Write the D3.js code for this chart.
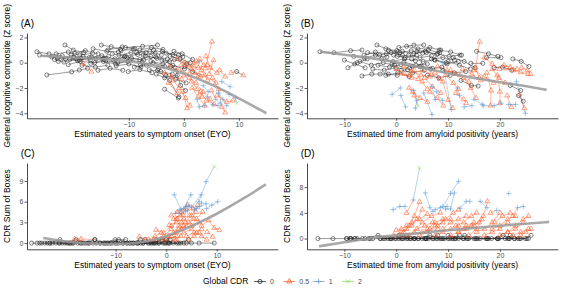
<!DOCTYPE html>
<html>
<head>
<meta charset="utf-8">
<script src="https://cdn.jsdelivr.net/npm/d3@7"></script>
<style>
body { margin: 0; background: #fff; }
text { font-family: "Liberation Sans", Arial, sans-serif; }
</style>
</head>
<body>
<svg id="chart" width="561" height="288"></svg>
<script>
// Global CDR levels and labels
var cdrLevels = [0, 0.5, 1, 2];
var cdrLabels = ["0", "0.5", "1", "2"];

// tick labels
var xTicksEYO = [-10, 0, 10];
var xTicksAmy = [-10, 0, 10, 20];
var yTicksCog = [-4, -2, 0, 2];
var yTicksSobC = [0, 3, 6, 9];
var yTicksSobD = [0, 4, 8];

// each subject: [time, score, global CDR] per visit
var subjectsA = [
  [[-26.7,0.87,0],[-24.5,0.7,0],[-22.1,0.55,0]],
  [[-26.2,0.6,0],[-23.0,0.35,0],[-20.0,0.45,0]],
  [[-24.9,-0.97,0],[-20.4,-0.72,0],[-19.0,-0.58,0],[-17.5,-0.45,0]],
  [[-23.5,0.25,0],[-21.8,0.05,0],[-19.5,0.3,0],[-17.0,0.2,0]],
  [[-21.6,1.4,0],[-20.1,1.0,0],[-18.2,0.8,0]],
  [[-22.8,0.1,0],[-20.5,0.6,0],[-18.7,0.35,0]],
  [[-21.0,-0.15,0],[-18.8,0.1,0],[-16.2,0.0,0],[-14.5,0.25,0]],
  [[-19.8,0.75,0],[-17.9,0.95,0],[-15.6,0.7,0]],
  [[-18.5,-0.2,0],[-16.1,-0.35,0],[-13.8,-0.2,0]],
  [[-17.2,0.4,0],[-14.9,0.55,0],[-12.5,0.3,0],[-10.8,0.45,0]],
  [[-15.0,1.4,0],[-13.2,1.27,0],[-11.5,1.05,0]],
  [[-16.5,1.1,0],[-14.0,0.9,0],[-11.9,0.85,0]],
  [[-15.6,-0.6,0],[-13.4,-0.45,0],[-11.1,-0.6,0]],
  [[-14.2,0.15,0],[-12.0,0.0,0],[-9.8,0.2,0],[-7.6,0.05,0]],
  [[-13.0,0.7,0],[-10.7,0.5,0],[-8.4,0.65,0]],
  [[-12.3,-0.25,0],[-10.0,-0.1,0],[-7.8,-0.35,0]],
  [[-10.6,1.2,0],[-7.5,1.3,0],[-4.8,1.4,0]],
  [[-11.4,0.95,0],[-9.2,1.1,0],[-6.9,0.8,0]],
  [[-10.1,-0.7,0],[-8.0,-0.55,0],[-5.8,-0.8,0]],
  [[-9.5,0.35,0],[-7.3,0.2,0],[-5.1,0.45,0],[-3.0,0.3,0]],
  [[-8.6,0.8,0],[-6.2,0.9,0],[-4.1,0.6,0]],
  [[-7.9,-0.2,0],[-5.6,0.0,0],[-3.5,-0.3,0]],
  [[-7.0,0.55,0],[-4.9,0.35,0],[-2.6,0.1,0]],
  [[-6.3,-0.55,0],[-4.2,-0.7,0],[-2.1,-0.9,0]],
  [[-5.5,1.0,0],[-3.2,0.75,0],[-1.0,0.6,0]],
  [[-4.8,-0.6,0],[-2.6,-1.4,0],[-0.9,-2.7,0]],
  [[-4.0,0.2,0],[-2.0,-0.2,0],[0.1,-0.5,0]],
  [[-3.3,-1.0,0],[-1.5,-1.3,0],[0.4,-1.6,0]],
  [[-2.5,0.5,0],[-0.7,0.3,0],[1.2,0.0,0]],
  [[-1.6,-0.4,0],[-0.6,-1.8,0],[0.3,-2.2,0]],
  [[-24.0,0.45,0],[-21.5,0.3,0],[-19.3,0.15,0]],
  [[-3.5,-2.1,0],[-1.0,-2.8,0]],
  [[-12.8,0.2,0],[-10.4,0.45,0],[-8.0,0.25,0],[-6.0,0.5,0]],
  [[-19.0,0.2,0],[-16.8,0.45,0],[-14.6,0.35,0]],
  [[8.6,-0.8,0.5],[9.6,-0.7,0],[10.8,-1.0,0.5]],
  [[-6.0,0.1,0],[-3.8,-0.1,0],[-1.7,0.25,0],[0.5,-0.1,0]],
  [[-5.0,-0.9,0],[-3.5,-1.2,0],[-1.2,-1.0,0]],
  [[0.2,-0.3,0],[1.6,-0.7,0],[3.0,-1.1,0.5]],
  [[-13.8,1.0,0],[-11.2,1.25,0],[-8.9,1.1,0]],
  [[-1.8,0.9,0],[-0.3,0.7,0],[1.6,0.25,0]],
  [[-23.2,0.7,0],[-21.0,0.85,0],[-18.9,0.6,0],[-16.6,0.75,0]],
  [[-20.7,0.25,0],[-18.3,0.5,0],[-16.0,0.3,0],[-13.7,0.5,0]],
  [[-16.9,-0.05,0],[-14.6,0.1,0],[-12.4,-0.1,0],[-10.2,0.1,0]],
  [[-11.8,0.6,0],[-9.6,0.8,0],[-7.4,0.6,0],[-5.2,0.75,0]],
  [[-9.0,-0.35,0],[-6.8,-0.2,0],[-4.6,-0.45,0],[-2.4,-0.3,0]],
  [[-8.0,1.0,0],[-5.9,1.2,0],[-3.8,1.05,0]],
  [[-3.9,0.9,0],[-2.0,0.65,0],[-0.2,0.45,0]],
  [[-18.3,-0.05,0.5],[-16.8,-0.71,0.5]],
  [[-2.6,-0.3,0.5],[-0.8,-0.6,0.5],[1.0,-0.9,0.5]],
  [[-1.9,-1.4,0.5],[-0.9,-2.0,0.5],[0.3,-2.8,0.5],[1.1,-3.4,0.5]],
  [[-0.5,-0.2,0.5],[1.3,-0.5,0.5],[2.7,-1.0,0.5]],
  [[-0.2,-2.3,0.5],[0.6,-3.6,0.5]],
  [[3.9,-0.45,0.5],[5.1,1.66,0.5]],
  [[4.6,-0.9,0.5],[5.4,0.2,0.5]],
  [[2.3,0.1,0.5],[3.2,-0.6,0.5],[4.3,-1.4,0.5]],
  [[1.0,-1.2,0.5],[2.2,-1.6,0.5],[3.5,-2.3,0.5],[4.8,-2.9,0.5]],
  [[2.0,-0.8,0.5],[3.8,-1.0,0.5],[5.8,-1.6,0.5]],
  [[0.8,-0.2,0.5],[2.6,-0.4,0.5],[4.2,-0.2,0.5]],
  [[5.2,-1.2,0.5],[6.3,-2.1,0.5],[6.9,-3.5,0.5],[7.5,-3.95,0.5]],
  [[3.0,-2.3,0.5],[4.1,-3.0,0.5],[5.5,-3.3,0.5]],
  [[6.5,-0.6,0.5],[7.5,-1.1,0.5]],
  [[-1.2,0.3,0.5],[0.2,0.0,0.5],[1.8,-0.3,0.5]],
  [[6.0,-2.6,0.5],[7.8,-3.1,0.5],[8.9,-3.0,0.5]],
  [[1.5,-2.0,0.5],[2.6,-2.7,0.5],[3.8,-3.4,0.5]],
  [[4.0,0.5,0.5],[4.8,-0.4,0.5],[6.0,-0.8,0.5]],
  [[-3.5,-0.8,0.5],[-2.2,-1.1,0.5],[-0.4,-1.3,0.5]],
  [[0.0,-1.0,0.5],[1.4,-1.5,0.5],[2.4,-2.1,0.5],[3.3,-2.7,0.5]],
  [[2.9,0.3,0.5],[3.6,-0.2,0.5]],
  [[-2.8,-1.6,0.5],[-1.2,-2.4,0.5]],
  [[1.8,0.0,0.5],[2.8,0.1,1]],
  [[6.9,-1.5,1],[8.4,-1.9,1]],
  [[2.4,-2.9,1],[2.8,-3.5,1],[3.8,-3.4,1]],
  [[4.3,-2.7,1],[5.3,-3.3,1],[6.2,-3.4,1]],
  [[6.3,-2.4,1],[7.1,-2.9,1],[7.8,-3.4,1]],
  [[5.0,-2.2,0.5],[5.8,-2.9,1],[6.6,-3.2,1]],
  [[8.2,-2.5,1],[9.4,-2.8,1],[9.6,-3.2,2]],
  [[3.5,-1.8,1],[4.4,-2.3,1]]
];

var subjectsB = [
  [[-14.7,0.87,0],[-12.0,0.79,0],[-8.8,0.95,0],[-6.6,1.0,0]],
  [[-9.3,-0.4,0],[-7.5,0.0,0],[-5.6,0.3,0]],
  [[-6.6,-1.05,0],[-4.7,-0.9,0],[-3.1,-0.9,0],[-1.5,-0.9,0],[0.2,-1.0,0]],
  [[-8.2,0.5,0],[-6.1,0.35,0],[-4.0,0.6,0],[-1.8,0.45,0]],
  [[-3.7,1.4,0],[-2.0,1.1,0],[0.1,0.95,0]],
  [[0.5,1.2,0],[3.4,1.4,0],[5.3,1.4,0]],
  [[-7.0,0.1,0],[-4.8,-0.2,0],[-2.5,0.0,0],[-0.3,-0.2,0]],
  [[-5.5,0.8,0],[-3.2,0.6,0],[-1.0,0.8,0],[1.2,0.6,0]],
  [[-4.5,-0.5,0],[-2.3,-0.6,0],[0.0,-0.4,0],[2.2,-0.55,0]],
  [[-2.8,0.3,0],[-0.6,0.1,0],[1.6,0.3,0],[3.7,0.15,0]],
  [[-1.5,1.0,0],[0.7,0.8,0],[2.9,0.95,0],[5.1,0.75,0]],
  [[-0.8,-0.1,0],[1.5,0.05,0],[3.8,-0.2,0],[6.0,-0.1,0]],
  [[0.2,0.5,0],[2.4,0.6,0],[4.6,0.4,0],[6.8,0.55,0]],
  [[1.0,-0.6,0],[3.2,-0.8,0],[5.4,-0.6,0]],
  [[2.0,1.3,0],[4.2,1.1,0],[6.5,1.2,0],[8.6,1.0,0]],
  [[3.0,0.3,0],[5.2,0.1,0],[7.4,0.25,0],[9.6,0.0,0]],
  [[4.5,-0.3,0],[6.6,-0.5,0],[8.8,-0.35,0]],
  [[5.8,0.8,0],[8.0,0.7,0],[10.2,0.5,0],[12.3,0.6,0]],
  [[7.5,0.2,0],[9.8,-0.1,0],[12.0,0.1,0]],
  [[8.3,1.0,0],[10.5,0.85,0],[12.6,0.6,0]],
  [[9.0,-0.6,0],[11.2,-0.8,0],[13.4,-0.7,0]],
  [[11.0,0.4,0],[13.1,0.1,0],[15.2,-0.4,0]],
  [[14.4,-0.05,0],[16.7,-0.05,0]],
  [[17.4,0.4,0],[20.2,0.4,0]],
  [[18.9,-0.4,0],[20.5,-0.35,0],[22.3,-0.6,0]],
  [[22.5,0.3,0],[24.1,0.1,0],[25.6,-0.3,0]],
  [[22.0,-1.8,0],[24.0,-2.2,0]],
  [[23.6,-2.6,0],[24.5,-3.05,0]],
  [[-10.0,0.2,0],[-8.0,-0.1,0],[-6.0,-0.4,0]],
  [[12.5,-1.4,0],[14.5,-1.8,0],[15.8,-1.85,0]],
  [[-2.0,-1.0,0],[0.3,-0.8,0],[2.5,-1.1,0]],
  [[6.0,-1.0,0],[8.2,-1.2,0],[10.4,-1.0,0]],
  [[15.5,0.9,0],[17.8,0.7,0],[19.6,0.5,0]],
  [[-0.5,0.6,0],[1.7,0.4,0],[3.9,0.6,0]],
  [[4.0,0.9,0],[6.2,1.0,0],[8.4,0.8,0]],
  [[-6.2,0.6,0],[-4.0,0.85,0],[-1.9,0.7,0],[0.3,0.85,0]],
  [[-3.5,-0.2,0],[-1.3,-0.35,0],[0.9,-0.15,0],[3.1,-0.3,0]],
  [[1.2,0.9,0],[3.4,0.7,0],[5.6,0.9,0],[7.8,0.65,0]],
  [[2.6,-0.4,0],[4.8,-0.25,0],[7.0,-0.45,0]],
  [[6.8,0.3,0],[9.0,0.4,0],[11.2,0.2,0]],
  [[10.0,0.1,0],[12.2,-0.2,0],[14.3,-0.5,0]],
  [[16.1,1.66,0.5],[15.3,-0.4,0.5],[16.0,-1.2,0.5]],
  [[0.8,-0.84,0.5],[2.5,-1.0,0.5],[4.2,-1.3,0.5]],
  [[1.5,-0.3,0.5],[3.0,-0.7,0.5],[4.8,-1.0,0.5],[6.5,-1.1,0.5]],
  [[3.2,-2.3,0.5],[4.6,-2.8,0.5],[6.0,-3.1,0.5]],
  [[5.5,-1.2,0.5],[7.0,-1.9,0.5],[8.6,-2.4,0.5]],
  [[7.5,-0.8,0.5],[9.0,-1.5,0.5],[10.0,-2.95,0.5],[10.9,-3.6,0.5]],
  [[9.5,-1.0,0.5],[11.0,-1.6,0.5],[12.0,-2.1,0.5]],
  [[10.5,-0.6,0.5],[12.3,-1.0,0.5],[14.0,-1.5,0.5]],
  [[12.8,-0.5,0.5],[14.6,-0.9,0.5],[16.3,-1.4,0.5]],
  [[15.0,-0.6,0.5],[17.0,-1.1,0.5],[18.8,-1.6,0.5]],
  [[17.5,-0.8,0.5],[18.3,-2.2,0.5],[18.2,-3.4,0.5]],
  [[19.5,-1.0,0.5],[20.0,-2.3,0.5],[20.0,-3.2,0.5]],
  [[20.8,-0.2,0.5],[22.0,-0.35,0.5],[23.3,-0.5,0.5]],
  [[21.3,-0.45,0.5],[22.6,-0.6,0.5],[24.0,-0.75,0.5],[25.4,-0.9,0.5]],
  [[21.4,-2.6,0.5],[22.2,-3.5,0.5]],
  [[23.8,-2.5,0.5],[24.7,-3.6,0.5]],
  [[2.5,-2.0,0.5],[3.5,-2.6,0.5],[4.2,-3.4,2]],
  [[6.5,-2.3,0.5],[7.9,-2.8,0.5],[9.1,-3.4,0.5]],
  [[13.0,-1.2,0.5],[14.4,-2.0,0.5],[15.4,-2.8,0.5]],
  [[8.0,-0.3,0.5],[9.8,-0.6,0.5],[11.5,-0.9,0.5]],
  [[0.0,-0.5,0.5],[1.6,-0.9,0.5],[3.0,-1.2,0.5]],
  [[17.0,0.4,0.5],[18.5,-0.1,0.5],[19.9,-0.5,0.5]],
  [[24.2,-0.4,0.5],[25.3,-0.6,0.5],[25.9,-0.9,0.5]],
  [[11.5,-2.4,0.5],[13.0,-2.9,0.5],[13.5,-3.2,0.5]],
  [[5.0,-0.6,0.5],[6.8,-0.9,0.5],[8.4,-1.3,0.5]],
  [[18.5,-0.5,0.5],[19.8,-1.2,0.5],[21.0,-1.6,0.5]],
  [[3.5,-0.6,0.5],[5.0,-1.5,0.5],[6.0,-2.1,0.5]],
  [[-0.8,-2.5,1],[0.8,-2.0,1]],
  [[0.9,-2.6,1],[1.8,-3.5,1]],
  [[3.3,-2.2,1],[4.0,-3.0,1],[3.7,-3.6,1]],
  [[6.9,-1.9,1],[7.5,-2.9,1]],
  [[5.3,-2.4,1],[6.9,-4.1,1]],
  [[9.0,0.0,1],[10.6,-3.7,1]],
  [[11.8,-2.0,1],[12.2,-2.6,1]],
  [[13.1,-3.5,1],[14.6,-3.4,1]],
  [[16.8,-3.4,1],[18.9,-3.4,1],[20.2,-3.2,1]],
  [[23.2,-1.5,1],[24.9,-4.0,1]],
  [[15.0,-2.9,1],[16.6,-3.3,1]],
  [[21.7,-3.3,1],[23.0,-3.3,1]],
  [[7.8,-2.3,1],[8.9,-3.0,1]]
];

var subjectsC = [
  [[-26.6,0,0],[-25.5,0,0],[-24.6,0,0],[-23.5,0,0]],
  [[-25.0,0,0],[-23.0,0,0],[-21.0,0.5,0],[-19.0,0,0]],
  [[-22.5,0,0],[-20.5,0,0],[-18.3,0,0]],
  [[-21.2,0,0],[-19.3,0,0],[-17.0,0,0],[-15.2,0,0]],
  [[-18.5,0,0],[-16.4,0,0],[-14.1,0.5,0],[-12.2,0,0]],
  [[-16.0,0,0],[-13.8,0,0],[-11.6,0,0],[-9.5,0,0]],
  [[-14.5,0,0],[-12.4,0,0],[-10.1,0.5,0],[-8.0,0.5,0]],
  [[-13.0,0,0],[-10.8,0,0],[-8.6,0,0],[-6.5,0,0]],
  [[-11.5,0,0],[-9.4,0.5,0],[-7.2,0,0],[-5.1,0.5,0]],
  [[-10.0,0,0],[-7.8,0,0],[-5.6,0,0],[-3.4,0,0]],
  [[-8.5,0,0],[-6.4,0,0],[-4.2,0.5,0],[-2.0,0,0]],
  [[-7.2,0,0],[-5.0,0,0],[-2.8,0,0],[-0.6,0,0]],
  [[-5.8,0,0],[-3.6,0,0],[-1.4,0,0],[0.8,0.5,0]],
  [[-4.5,0,0],[-2.3,0,0],[-0.1,0,0],[2.1,0,0]],
  [[-3.0,0,0],[-0.8,0.5,0],[1.4,0,0],[3.5,0,0]],
  [[-1.5,0,0],[0.7,0,0],[2.9,0,0],[5.0,0,0]],
  [[-20.0,0,0],[-17.8,0.5,0],[-15.6,0,0]],
  [[0.5,0,0],[2.5,0,0],[4.4,0.5,0]],
  [[4.0,0,0],[6.5,0,0],[9.5,0,0]],
  [[-24.0,0,0],[-21.8,0,0],[-19.6,0,0]],
  [[-23.0,0,0],[-21.0,0,0],[-18.9,0,0],[-16.8,0,0]],
  [[-17.5,0,0],[-15.3,0,0],[-13.1,0,0],[-11.0,0,0]],
  [[-12.0,0,0],[-9.9,0,0],[-7.7,0,0],[-5.5,0,0]],
  [[-6.8,0,0],[-4.6,0,0],[-2.5,0,0],[-0.3,0,0]],
  [[-2.0,0.5,0],[0.0,0.5,0],[2.0,1.0,0.5]],
  [[-18.1,0.6,0.5],[-16.8,0.6,0.5],[-14.1,0.5,0]],
  [[-5.3,0.9,0.5],[-4.0,0.5,0.5],[-2.5,0.5,0.5]],
  [[-2.0,1.9,0.5],[-0.5,1.5,0.5],[1.0,2.5,0.5]],
  [[0.6,2.6,0.5],[2.0,3.0,0.5],[3.5,3.5,0.5]],
  [[3.0,2.0,0.5],[4.5,3.0,0.5],[5.9,4.5,0.5]],
  [[7.0,2.5,0.5],[8.4,3.3,0.5],[9.5,2.2,0.5],[10.5,1.9,0.5]],
  [[8.1,1.6,0.5],[9.2,0.9,0.5]],
  [[-1.0,0.5,0.5],[0.5,1.0,0.5],[2.0,1.5,0.5],[3.4,2.5,0.5]],
  [[0.0,0.5,0.5],[1.5,1.5,0.5],[3.0,3.0,0.5],[4.6,4.0,0.5]],
  [[1.0,1.0,0.5],[2.5,2.0,0.5],[4.0,2.5,0.5],[5.5,3.5,0.5]],
  [[2.0,0.5,0.5],[3.5,1.5,0.5],[5.0,2.0,0.5],[6.5,3.0,0.5]],
  [[1.5,3.5,0.5],[2.8,4.0,0.5],[4.0,5.0,0.5]],
  [[3.0,4.5,0.5],[4.2,5.5,0.5],[5.3,5.0,0.5]],
  [[-0.5,1.0,0.5],[1.0,2.0,0.5],[2.2,3.5,0.5]],
  [[4.0,1.0,0.5],[5.5,1.5,0.5],[7.0,2.0,0.5]],
  [[5.0,2.5,0.5],[6.0,3.5,0.5],[7.2,4.5,0.5]],
  [[0.3,0.0,0],[1.6,0.5,0.5],[2.9,1.0,0.5]],
  [[-3.5,0.5,0.5],[-2.2,1.0,0.5],[-1.0,1.5,0.5]],
  [[2.5,2.5,0.5],[3.8,3.0,0.5],[5.0,4.0,0.5],[6.2,5.5,0.5]],
  [[6.0,1.5,0.5],[7.0,1.0,0.5],[8.0,0.5,0.5]],
  [[1.0,4.0,0.5],[2.2,4.5,0.5],[3.4,4.0,0.5]],
  [[4.5,0.5,0.5],[5.5,1.0,0.5],[6.5,1.5,0.5]],
  [[1.8,4.3,1],[2.6,4.7,1],[3.4,5.0,1],[4.9,7.0,1]],
  [[1.6,7.0,1],[2.9,4.9,1],[4.0,5.3,1]],
  [[3.8,4.6,1],[5.0,5.2,1],[6.9,7.0,1]],
  [[5.5,4.8,1],[6.6,5.3,1],[7.9,5.7,1]],
  [[6.5,6.0,1],[7.9,8.9,1],[9.5,11.1,2]],
  [[8.0,5.0,1],[9.0,5.5,1],[10.2,6.0,1]],
  [[4.5,5.5,1],[6.0,5.0,1],[7.0,5.8,1]],
  [[2.0,3.5,0.5],[3.0,4.3,1],[4.2,4.7,1]]
];

var subjectsD = [
  [[-15.1,0,0],[-12.2,0,0],[-9.6,0,0],[-8.8,0,0]],
  [[-9.5,0,0],[-8.7,0,0],[-7.9,0,0]],
  [[-7.5,0,0],[-5.3,0,0],[-3.1,0,0],[-0.9,0,0]],
  [[-6.0,0,0],[-3.5,0.5,0],[-1.2,0,0],[1.0,0,0]],
  [[-4.5,0,0],[-2.2,0,0],[0.0,0,0],[2.3,0,0]],
  [[-2.5,0,0],[-0.3,0,0],[2.0,0.5,0],[4.2,0,0]],
  [[-1.0,0,0],[1.2,0,0],[3.4,0,0],[5.7,0,0]],
  [[0.5,0,0],[2.7,0,0],[5.0,0,0],[7.2,0,0]],
  [[2.0,0,0],[4.3,0,0],[6.5,0.5,0],[8.8,0,0]],
  [[3.5,0,0],[5.8,0,0],[8.0,0,0],[10.3,0,0]],
  [[5.5,0,0],[7.7,0,0],[10.0,0,0],[12.2,0.5,0]],
  [[7.0,0,0],[9.3,0,0],[11.5,0,0],[13.8,0,0]],
  [[9.0,0,0],[11.3,0,0],[13.6,0,0],[15.8,0,0]],
  [[11.0,0,0],[13.2,0.5,0],[15.5,0,0],[17.8,0,0]],
  [[13.0,0,0],[15.3,0,0],[17.6,0,0],[19.8,0,0]],
  [[15.0,0,0],[17.3,0,0],[19.5,0,0],[21.8,0,0]],
  [[17.5,0,0],[19.6,0,0],[21.8,0,0],[24.0,0,0]],
  [[19.5,0,0],[21.5,0,0],[23.5,0,0],[25.2,0,0]],
  [[21.0,0,0],[22.8,0,0],[24.9,0,0],[26.0,0.5,0]],
  [[22.0,0.5,0],[23.8,0,0],[25.5,0,0]],
  [[-8.9,0,0],[-8.0,0,0],[-6.5,0,0],[-5.0,0,0]],
  [[10.0,0.5,0],[12.0,0,0],[14.0,0,0]],
  [[-3.0,0,0],[-1.6,0,0],[0.6,0.5,0],[2.8,0,0]],
  [[1.4,0,0],[3.6,0,0],[5.8,0,0],[8.0,0.5,0]],
  [[6.2,0,0],[8.5,0,0],[10.7,0,0],[12.9,0,0]],
  [[16.2,0,0],[18.4,0,0],[20.6,0.5,0],[22.8,0,0]],
  [[0.0,1.3,0.5],[1.0,1.5,0.5],[2.0,2.0,0.5]],
  [[1.0,0.5,0.5],[2.5,2.0,0.5],[3.5,3.5,0.5],[4.5,5.7,0.5]],
  [[1.5,1.0,0.5],[3.0,2.5,0.5],[4.5,3.0,0.5],[6.0,3.8,0.5]],
  [[2.5,0.5,0.5],[4.0,1.5,0.5],[5.5,2.0,0.5],[7.0,2.5,0.5]],
  [[3.5,1.0,0.5],[5.0,2.5,0.5],[6.8,3.5,0.5],[8.5,4.0,0.5]],
  [[4.5,0.5,0.5],[6.0,1.0,0.5],[7.5,2.0,0.5],[9.0,2.5,0.5]],
  [[6.0,1.5,0.5],[7.5,2.5,0.5],[9.0,3.0,0.5],[10.5,3.0,0.5]],
  [[7.5,0.5,0.5],[9.0,1.0,0.5],[10.5,1.5,0.5],[12.0,2.0,0.5]],
  [[9.0,1.5,0.5],[10.5,2.5,0.5],[12.0,3.0,0.5],[13.5,3.5,0.5]],
  [[10.5,0.5,0.5],[12.0,1.0,0.5],[13.5,2.0,0.5],[15.0,2.5,0.5]],
  [[12.0,1.0,0.5],[13.5,1.5,0.5],[15.0,2.0,0.5],[16.5,3.0,0.5]],
  [[14.0,0.5,0.5],[15.5,1.5,0.5],[16.8,3.5,0.5],[17.6,5.8,0.5]],
  [[15.5,1.0,0.5],[17.0,1.5,0.5],[18.5,2.5,0.5],[20.0,4.0,0.5]],
  [[17.0,0.5,0.5],[18.5,1.0,0.5],[20.0,1.5,0.5],[21.5,2.5,0.5]],
  [[18.5,1.5,0.5],[20.0,2.0,0.5],[21.5,3.0,0.5],[23.0,3.5,0.5]],
  [[20.0,0.5,0.5],[21.5,1.0,0.5],[23.0,1.5,0.5],[24.5,2.5,0.5]],
  [[21.5,1.0,0.5],[23.0,2.0,0.5],[24.5,3.0,0.5],[25.5,3.5,0.5]],
  [[22.5,0.5,0.5],[24.0,1.0,0.5],[25.5,1.5,0.5]],
  [[8.0,2.0,0.5],[9.5,3.0,0.5],[11.0,4.0,0.5],[12.0,4.5,0.5]],
  [[5.0,1.0,0.5],[6.5,1.5,0.5],[8.0,1.5,0.5]],
  [[11.5,2.0,0.5],[13.0,2.5,0.5],[14.5,3.5,0.5],[15.5,4.0,0.5]],
  [[-0.5,0.5,0.5],[1.0,1.0,0.5],[2.0,1.5,0.5]],
  [[13.0,1.5,0.5],[14.5,2.0,0.5],[16.0,2.5,0.5]],
  [[19.0,2.5,0.5],[20.5,3.5,0.5],[22.0,4.0,0.5]],
  [[3.0,2.0,0.5],[4.0,3.0,0.5],[5.0,4.5,0.5]],
  [[24.0,0.5,0.5],[25.0,1.0,0.5],[26.0,1.5,0.5]],
  [[-0.6,4.5,1],[0.7,5.0,1],[1.7,5.0,1]],
  [[2.0,4.0,0.5],[3.3,6.0,1],[4.5,11.0,2]],
  [[5.6,7.1,1],[6.5,4.8,1],[7.1,4.2,1]],
  [[7.5,4.5,1],[9.0,5.0,1],[10.5,7.0,1],[12.0,8.9,1]],
  [[9.5,4.6,1],[10.5,4.6,1],[11.2,7.1,1]],
  [[12.3,4.7,1],[13.5,5.8,1]],
  [[14.2,5.8,1]],
  [[16.2,5.8,1],[17.5,4.8,1]],
  [[18.2,4.0,0.5],[19.4,4.4,1]],
  [[21.7,7.0,1]],
  [[22.5,3.5,0.5],[23.4,4.8,1],[24.5,5.0,1]],
  [[8.5,4.8,1],[9.8,5.0,1]]
];

// smoothed group trend lines
var smoothA = [[-26,0.55],[-20,0.4],[-15,0.3],[-10,0.15],[-5,-0.2],[0,-0.8],[5,-1.7],[10,-2.8],[15,-4.0]];
var smoothB = [[-14.7,0.87],[-5,0.4],[0,0.05],[5,-0.4],[10,-0.85],[15,-1.2],[20,-1.55],[25,-1.85],[29,-2.15]];
var smoothC = [[-24.3,0.75],[-20,0.2],[-15,-0.1],[-10,-0.2],[-5,0.0],[0,0.9],[5,2.4],[10,4.2],[15,6.3],[19.7,8.5]];
var smoothD = [[-14.9,-1.2],[-10,-0.6],[-5,0.1],[0,0.5],[5,0.9],[10,1.3],[15,1.65],[20,2.0],[25,2.3],[29.5,2.6]];

var svg = d3.select("#chart");

var color = d3.scaleOrdinal()
    .domain(cdrLevels)
    .range(["#1f1f1f", "#ff5a26", "#5e9bd8", "#86e060"]);

var shapes = d3.scaleOrdinal()
    .domain(cdrLevels)
    .range([
        d3.symbol(d3.symbolCircle, 13)(),
        "M0,-2.9L2.5,1.45L-2.5,1.45Z",
        "M-2.7,0H2.7M0,-2.7V2.7",
        "M-2.1,-2.1L2.1,2.1M-2.1,2.1L2.1,-2.1"
    ]);

var panels = [
    {label: "(A)", subjects: subjectsA, smooth: smoothA, xTicks: xTicksEYO, yTicks: yTicksCog,
     xDomain: [-28.5, 17.1], yDomain: [-4.4, 2.35], left: 27, right: 278, top: 33, bottom: 118.3,
     xTitle: "Estimated years to symptom onset (EYO)", yTitle: "General cognitive composite (Z score)"},
    {label: "(B)", subjects: subjectsB, smooth: smoothB, xTicks: xTicksAmy, yTicks: yTicksCog,
     xDomain: [-17.2, 31.2], yDomain: [-4.4, 2.35], left: 307, right: 558, top: 33, bottom: 118.3,
     xTitle: "Estimated time from amyloid positivity (years)", yTitle: "General cognitive composite (Z score)"},
    {label: "(C)", subjects: subjectsC, smooth: smoothC, xTicks: xTicksEYO, yTicks: yTicksSobC,
     xDomain: [-27.5, 22.1], yDomain: [-0.9, 11.6], left: 27, right: 278, top: 163, bottom: 249.3,
     xTitle: "Estimated years to symptom onset (EYO)", yTitle: "CDR Sum of Boxes"},
    {label: "(D)", subjects: subjectsD, smooth: smoothD, xTicks: xTicksAmy, yTicks: yTicksSobD,
     xDomain: [-17.2, 31.2], yDomain: [-1.67, 11.76], left: 307, right: 558, top: 163, bottom: 249.3,
     xTitle: "Estimated time from amyloid positivity (years)", yTitle: "CDR Sum of Boxes"}
];

panels.forEach(drawPanel);

function drawPanel(p) {
    var x = d3.scaleLinear().domain(p.xDomain).range([p.left, p.right]);
    var y = d3.scaleLinear().domain(p.yDomain).range([p.bottom, p.top]);
    var g = svg.append("g");

    // line segments between visits, coloured by the earlier visit
    var segs = [];
    p.subjects.forEach(function (s) {
        for (var i = 1; i < s.length; i++) segs.push([s[i - 1], s[i]]);
    });
    g.selectAll(".seg")
        .data(segs)
        .enter().append("line")
        .attr("class", "seg")
        .attr("x1", function (d) { return x(d[0][0]); })
        .attr("y1", function (d) { return y(d[0][1]); })
        .attr("x2", function (d) { return x(d[1][0]); })
        .attr("y2", function (d) { return y(d[1][1]); })
        .attr("stroke", function (d) { return color(d[0][2]); })
        .attr("stroke-width", 0.6)
        .attr("stroke-opacity", 0.75);

    var pts = [];
    p.subjects.forEach(function (s) { pts = pts.concat(s); });
    g.selectAll(".pt")
        .data(pts)
        .enter().append("path")
        .attr("class", "pt")
        .attr("transform", function (d) { return "translate(" + x(d[0]) + "," + y(d[1]) + ")"; })
        .attr("d", function (d) { return shapes(d[2]); })
        .attr("fill", "none")
        .attr("stroke", function (d) { return color(d[2]); })
        .attr("stroke-width", 0.7)
        .attr("stroke-opacity", 0.8);

    g.append("path")
        .datum(p.smooth)
        .attr("d", d3.line()
            .x(function (d) { return x(d[0]); })
            .y(function (d) { return y(d[1]); })
            .curve(d3.curveBasis))
        .attr("fill", "none")
        .attr("stroke", "#9a9a9a")
        .attr("stroke-width", 2.6)
        .attr("stroke-opacity", 0.85)
        .attr("stroke-linecap", "butt");

    var xAxis = g.append("g")
        .attr("transform", "translate(0," + p.bottom + ")")
        .call(d3.axisBottom(x).tickValues(p.xTicks).tickFormat(d3.format("d"))
            .tickSize(2.5).tickSizeOuter(0).tickPadding(1.2));
    var yAxis = g.append("g")
        .attr("transform", "translate(" + p.left + ",0)")
        .call(d3.axisLeft(y).tickValues(p.yTicks).tickFormat(d3.format("d"))
            .tickSize(2.5).tickSizeOuter(0).tickPadding(1.2));

    [xAxis, yAxis].forEach(function (a) {
        a.attr("font-family", null).attr("font-size", null);
        a.select(".domain").attr("stroke", "#333").attr("stroke-width", 0.9);
        a.selectAll(".tick line").attr("stroke", "#333").attr("stroke-width", 0.8);
        a.selectAll(".tick text").attr("fill", "#4d4d4d").style("font-size", "7px");
    });
    // minus sign like R output
    g.selectAll(".tick text").text(function (d) { return d < 0 ? "\u2212" + Math.abs(d) : d; });

    g.append("text")
        .attr("x", (p.left + p.right) / 2)
        .attr("y", p.bottom + 18.5)
        .attr("text-anchor", "middle")
        .style("font-size", "8.5px")
        .text(p.xTitle);

    g.append("text")
        .attr("transform", "translate(" + (p.left - 20) + "," + ((p.top + p.bottom) / 2) + ") rotate(-90)")
        .attr("text-anchor", "middle")
        .attr("dy", "0.35em")
        .style("font-size", "8.5px")
        .text(p.yTitle);

    g.append("text")
        .attr("x", p.left - 6.3)
        .attr("y", p.top - 6.5)
        .style("font-size", "10px")
        .text(p.label);
}

// legend
var legend = svg.append("g").attr("transform", "translate(0,281.5)");
legend.append("text")
    .attr("x", 203)
    .attr("dy", "0.35em")
    .style("font-size", "8.5px")
    .text("Global CDR");

var keyX = d3.scalePoint().domain(cdrLevels).range([254, 342]);
var key = legend.selectAll(".key")
    .data(cdrLevels)
    .enter().append("g")
    .attr("class", "key")
    .attr("transform", function (d) { return "translate(" + keyX(d) + ",0)"; });

key.append("line")
    .attr("x1", 0).attr("x2", 12)
    .attr("stroke", function (d) { return color(d); })
    .attr("stroke-width", 0.7);
key.append("path")
    .attr("transform", "translate(6,0)")
    .attr("d", function (d) { return shapes(d); })
    .attr("fill", "none")
    .attr("stroke", function (d) { return color(d); })
    .attr("stroke-width", 0.8);
key.append("text")
    .attr("x", 16)
    .attr("dy", "0.35em")
    .attr("fill", "#4d4d4d")
    .style("font-size", "7px")
    .text(function (d, i) { return cdrLabels[i]; });
</script>
</body>
</html>
